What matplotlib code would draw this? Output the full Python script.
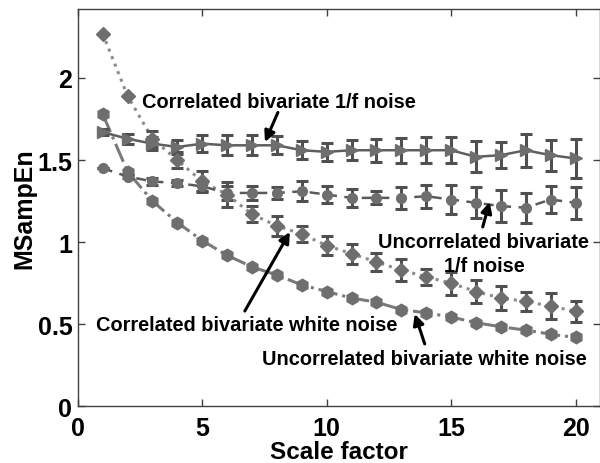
import matplotlib
matplotlib.use("Agg")
import matplotlib.pyplot as plt
import numpy as np

plt.rcParams['font.family'] = ['Liberation Sans', 'DejaVu Sans']
plt.rcParams['font.weight'] = 'bold'

scales = list(range(1, 21))

corr_white = [2.27, 1.89, 1.63, 1.50, 1.37, 1.29, 1.17, 1.10, 1.05, 0.98,
              0.93, 0.88, 0.83, 0.79, 0.75, 0.70, 0.66, 0.64, 0.61, 0.58]
corr_white_err = [0, 0, 0.05, 0.05, 0.065, 0.075, 0.048, 0.06, 0.05, 0.055,
                  0.06, 0.055, 0.065, 0.05, 0.07, 0.07, 0.075, 0.06, 0.08, 0.063]

uncorr_white = [1.78, 1.43, 1.25, 1.12, 1.01, 0.92, 0.85, 0.80, 0.74, 0.70,
                0.66, 0.635, 0.59, 0.57, 0.545, 0.51, 0.485, 0.465, 0.44, 0.42]

corr_pink = [1.67, 1.63, 1.60, 1.58, 1.60, 1.59, 1.59, 1.59, 1.56, 1.55,
             1.56, 1.56, 1.56, 1.56, 1.56, 1.52, 1.53, 1.56, 1.53, 1.51]
corr_pink_err = [0.02, 0.03, 0.04, 0.04, 0.05, 0.06, 0.06, 0.055, 0.055, 0.055,
                 0.06, 0.07, 0.075, 0.08, 0.08, 0.095, 0.08, 0.10, 0.095, 0.12]

uncorr_pink = [1.45, 1.40, 1.37, 1.36, 1.34, 1.30, 1.30, 1.30, 1.31, 1.29,
               1.27, 1.27, 1.27, 1.28, 1.26, 1.24, 1.22, 1.21, 1.26, 1.24]
uncorr_pink_err = [0.0, 0.01, 0.02, 0.02, 0.03, 0.04, 0.045, 0.035, 0.06, 0.05,
                   0.055, 0.04, 0.067, 0.07, 0.09, 0.094, 0.098, 0.09, 0.085, 0.096]

x_ticks = [0, 5, 10, 15, 20]
y_ticks = [0, 0.5, 1, 1.5, 2]
y_tick_labels = ['0', '0.5', '1', '1.5', '2']

fig = plt.figure(figsize=(6.0, 4.64), dpi=100)
ax = fig.add_axes([0.1297, 0.1218, 0.871, 0.8567])

mcol = '#6e6e6e'
ecol = '#505050'

# Correlated bivariate white noise (dotted, diamonds)
ax.plot(scales, corr_white, linestyle=':', color='#8c8c8c', lw=2.2, zorder=2)
ax.errorbar(scales, corr_white, yerr=corr_white_err, fmt='D', color=mcol,
            ms=7, ecolor=ecol, elinewidth=2.2, capsize=4, capthick=2.2, zorder=3)

# Uncorrelated bivariate white noise (dash-dot, hexagons)
ax.plot(scales, uncorr_white, linestyle='-.', color='#7a7a7a', lw=2.2,
        marker='h', ms=9, mfc=mcol, mec=mcol, zorder=3)

# Correlated bivariate 1/f noise (solid, triangles)
ax.plot(scales, corr_pink, linestyle='-', color='#5e5e5e', lw=1.8, zorder=2)
ax.errorbar(scales, corr_pink, yerr=corr_pink_err, fmt='>', color=mcol,
            ms=8, ecolor=ecol, elinewidth=2.2, capsize=4, capthick=2.2, zorder=3)

# Uncorrelated bivariate 1/f noise (dashed, circles)
ax.plot(scales, uncorr_pink, linestyle='--', color='#5a5a5a', lw=1.8,
        dashes=(4, 3), zorder=2)
ax.errorbar(scales, uncorr_pink, yerr=uncorr_pink_err, fmt='o', color=mcol,
            ms=7, ecolor=ecol, elinewidth=2.2, capsize=4, capthick=2.2, zorder=3)

ax.set_xlim(0, 21)
ax.set_ylim(0, 2.42)
ax.set_xticks(x_ticks)
ax.set_yticks(y_ticks)
ax.set_yticklabels(y_tick_labels)

for sp in ax.spines.values():
    sp.set_color('#404040')
    sp.set_linewidth(1.0)

ax.tick_params(direction='in', length=5, width=1, color='#404040',
               top=True, right=True, labelsize=18)
ax.tick_params(axis='x', pad=6.5)
ax.tick_params(axis='y', pad=4)
for lab in ax.get_xticklabels() + ax.get_yticklabels():
    lab.set_fontweight('bold')

ax.set_xlabel('Scale factor', fontsize=17.5, fontweight='bold', labelpad=0)
ax.set_ylabel('MSampEn', fontsize=18, fontweight='bold', labelpad=1)

afs = 14.4
arrow = dict(arrowstyle='-|>', lw=2.2, color='black', mutation_scale=16,
             shrinkA=0, shrinkB=0)

ax.text(8.08, 1.823, 'Correlated bivariate 1/f noise', fontsize=afs,
        fontweight='bold', ha='center', va='baseline')
ax.annotate('', xy=(7.52, 1.61), xytext=(8.04, 1.79), arrowprops=arrow)

ax.text(16.31, 0.971, 'Uncorrelated bivariate', fontsize=afs,
        fontweight='bold', ha='center', va='baseline')
ax.text(16.35, 0.825, '1/f noise', fontsize=afs,
        fontweight='bold', ha='center', va='baseline')
ax.annotate('', xy=(16.55, 1.245), xytext=(16.27, 1.093), arrowprops=arrow)

ax.text(6.77, 0.468, 'Correlated bivariate white noise', fontsize=afs,
        fontweight='bold', ha='center', va='baseline')
ax.annotate('', xy=(8.52, 1.062), xytext=(6.71, 0.581), arrowprops=arrow)

ax.text(13.94, 0.259, 'Uncorrelated bivariate white noise', fontsize=afs,
        fontweight='bold', ha='center', va='baseline')
ax.annotate('', xy=(13.54, 0.563), xytext=(13.94, 0.381), arrowprops=arrow)

fig.savefig('out.png', dpi=100)
